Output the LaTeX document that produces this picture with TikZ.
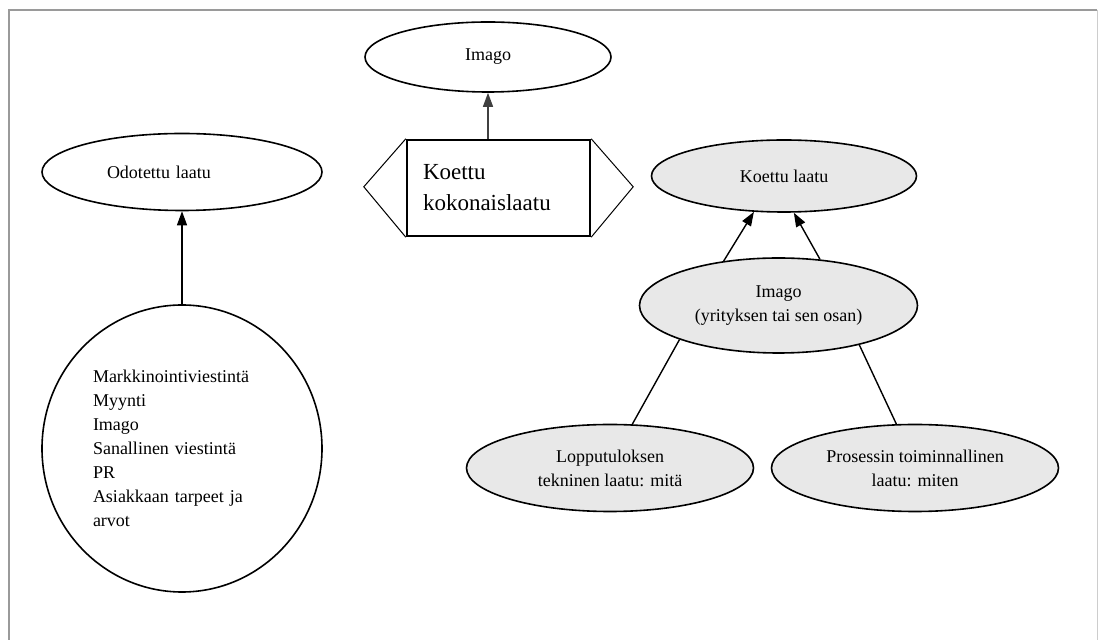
\documentclass[tikz,border=0pt]{standalone}
\usepackage{fontspec}
\setmainfont{Liberation Serif}
\usepackage{tikz}
\usetikzlibrary{arrows.meta, shapes.geometric, positioning, calc}

\definecolor{ovalgray}{HTML}{E8E8E8}
\definecolor{framegray}{HTML}{9A9A9A}

\begin{document}
\begin{tikzpicture}[x=0.5pt, y=-0.5pt,
    oval/.style={draw, ellipse, line width=0.8pt, inner sep=0pt, align=center,
                 font=\fontsize{9}{12}\selectfont},
    greyoval/.style={oval, fill=ovalgray},
    arr/.style={line width=0.7pt, -{Triangle[length=7pt, width=5pt]}}]
    \useasboundingbox (0,0) rectangle (1098,640);

    % Frame round the figure
    \draw[framegray, line width=1pt] (9,640) -- (9,10) -- (1097,10);
    \draw[framegray!50, line width=0.5pt] (1097,10) -- (1097,640);

    % Centre: experienced total quality
    \node[oval, minimum width=123pt, minimum height=35pt] (imagotop) at (488,57) {Imago};
    \node[draw, rectangle, line width=1.2pt, minimum width=91.5pt, minimum height=48pt,
          inner xsep=8pt, text width=75.5pt, align=left,
          font=\fontsize{11.5}{15.5}\selectfont] (total) at (498.5,188) {Koettu\\kokonaislaatu};
    \draw[line width=0.5pt] (total.north west) -- ++(-42,48) -- (total.south west);
    \draw[line width=0.5pt] (total.north east) -- ++(42,48) -- (total.south east);
    \draw[arr, black!75] (total.north -| imagotop.south) -- (imagotop.south);

    % Left: expected quality
    \node[oval, minimum width=140pt, minimum height=38.5pt, text width=75pt, align=left] (expected) at (182,172) {Odotettu laatu};
    \node[oval, minimum width=140pt, minimum height=143.5pt, text width=89pt, align=left] (factors) at (182,448.5) {%
        Markkinointiviestintä\\
        Myynti\\
        Imago\\
        Sanallinen viestintä\\
        PR\\
        Asiakkaan tarpeet ja\\
        arvot};
    \draw[arr] (factors.north) -- (expected.south);

    % Right: experienced quality
    \node[greyoval, minimum width=132.5pt, minimum height=36pt] (experienced) at (784,176) {Koettu laatu};
    \node[greyoval, minimum width=139pt, minimum height=47.5pt] (imagofirm) at (778.5,305.5) {Imago\\(yrityksen tai sen osan)};
    \node[greyoval, minimum width=143.5pt, minimum height=43.5pt] (technical) at (610,468) {Lopputuloksen\\tekninen laatu: mitä};
    \node[greyoval, minimum width=143.5pt, minimum height=43.5pt] (functional) at (915,468) {Prosessin toiminnallinen\\laatu: miten};

    \draw[arr] (imagofirm.141) -- (experienced.230);
    \draw[arr] (imagofirm.48) -- (experienced.-75);
    \draw[line width=0.7pt] (imagofirm.199) -- (technical.63);
    \draw[line width=0.7pt] (imagofirm.-26) -- (functional.113);
\end{tikzpicture}
\end{document}
